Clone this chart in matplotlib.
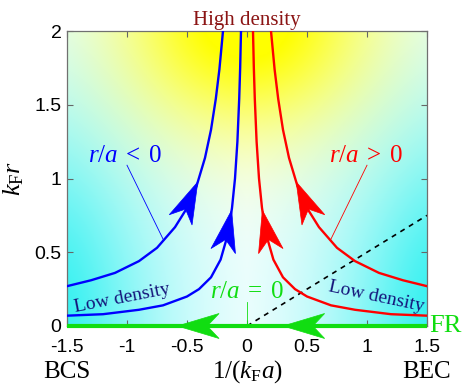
import numpy as np
import matplotlib
matplotlib.use("Agg")
import matplotlib.pyplot as plt
from matplotlib.patches import Polygon
from matplotlib.transforms import Affine2D, ScaledTranslation

plt.rcParams['axes.unicode_minus'] = False
plt.rcParams['mathtext.fontset'] = 'custom'
plt.rcParams['mathtext.rm'] = 'Liberation Serif'
plt.rcParams['mathtext.it'] = 'Liberation Serif:italic'

# axis ticks
x_ticks = [-1.5, -1, -0.5, 0, 0.5, 1, 1.5]
y_ticks = [0, 0.5, 1, 1.5, 2]

# flow lines (blue: r/a < 0, red: r/a > 0)
blue_outer_x = [-1.5, -1.3, -1.1, -0.9, -0.75, -0.6, -0.5, -0.42, -0.35, -0.3, -0.26, -0.23, -0.2]
blue_outer_y = [0.27, 0.31, 0.36, 0.44, 0.53, 0.67, 0.80, 0.95, 1.14, 1.33, 1.54, 1.74, 2.0]
blue_inner_x = [-1.5, -1.2, -0.9, -0.7, -0.5, -0.4, -0.3, -0.22, -0.16, -0.125, -0.1, -0.08, -0.065, -0.057, -0.05]
blue_inner_y = [0.07, 0.08, 0.11, 0.14, 0.20, 0.25, 0.33, 0.45, 0.62, 0.80, 1.0, 1.25, 1.54, 1.75, 2.0]
red_outer_x = [1.5, 1.3, 1.1, 0.9, 0.75, 0.6, 0.5, 0.42, 0.35, 0.3, 0.26, 0.23, 0.2]
red_outer_y = [0.27, 0.31, 0.36, 0.44, 0.53, 0.67, 0.80, 0.95, 1.14, 1.33, 1.54, 1.74, 2.0]
red_inner_x = [1.5, 1.2, 0.9, 0.7, 0.5, 0.4, 0.3, 0.22, 0.16, 0.125, 0.1, 0.08, 0.065, 0.057, 0.05]
red_inner_y = [0.07, 0.08, 0.11, 0.14, 0.20, 0.25, 0.33, 0.45, 0.62, 0.80, 1.0, 1.25, 1.54, 1.75, 2.0]

# arrow heads: x of tip and of back end along each curve
arrow_tip_x = [-0.41, -0.128, 0.128, 0.41]
arrow_back_x = [-0.53, -0.195, 0.195, 0.53]

# fixed point line r/a = 0 and its arrows
fr_x = [-1.5, 1.5]
fr_y = [0, 0]
fr_arrow_tip_x = [-0.58, 0.30]
fr_arrow_back_x = [-0.25, 0.63]

# dashed line
dash_x = [0, 1.5]
dash_y = [0, 0.75]

blue = '#0000ff'
red = '#ff0000'
green = '#11dd11'
navy = '#14147a'

fig = plt.figure(figsize=(4.71, 3.9), dpi=100)
ax = fig.add_axes([67/471, 1-326/390, 360/471, 295/390])
ax.set_xlim(-1.5, 1.5)
ax.set_ylim(0, 2)

# background: cyan towards the low density corners, yellow at high density top
gx, gy = np.meshgrid(np.linspace(-1.5, 1.5, 300), np.linspace(0, 2, 200))
sl = np.exp(-((gx + 1.5) / 0.85) ** 1.4 - (gy / 1.46) ** 2)
sr = np.exp(-((1.5 - gx) / 0.85) ** 1.4 - (gy / 1.46) ** 2)
t = np.clip(1.15 * np.exp(-(gx / 1.0) ** 2 - ((gy - 2.1) / 0.75) ** 2), 0, 1)
s = 0.77 * np.maximum(sl, sr) * (1 - t)
img = np.dstack([1 - s, 1 - 0.07 * s, 1 - t - 0.07 * s])
img = np.clip(img, 0, 1)
ax.imshow(img, extent=[-1.5, 1.5, 0, 2], origin='lower', aspect='auto',
          interpolation='bilinear', zorder=0)

lw = 1.7
ax.plot(blue_outer_x, blue_outer_y, color=blue, lw=lw, zorder=3)
ax.plot(blue_inner_x, blue_inner_y, color=blue, lw=lw, zorder=3)
ax.plot(red_outer_x, red_outer_y, color=red, lw=lw, zorder=3)
ax.plot(red_inner_x, red_inner_y, color=red, lw=lw, zorder=3)
ax.plot(dash_x, dash_y, color='black', lw=1.2, ls=(0, (3, 3)), zorder=2)
ax.plot(fr_x, fr_y, color=green, lw=3, zorder=4, clip_on=False,
        solid_capstyle='butt')


def head(x0, y0, x1, y1, color):
    # notched arrow head, tip at (x0, y0), pointing away from (x1, y1)
    p0 = ax.transData.transform((x0, y0))
    p1 = ax.transData.transform((x1, y1))
    ang = np.arctan2(p0[1] - p1[1], p0[0] - p1[0])
    L, W, N = 30, 9, 21.5
    verts = np.array([[0, 0], [-L, W], [-N, 0], [-L, -W]])
    tr = (Affine2D().rotate(ang).scale(1 / 72) + fig.dpi_scale_trans
          + ScaledTranslation(x0, y0, ax.transData))
    ax.add_patch(Polygon(verts, closed=True, facecolor=color, edgecolor=color,
                         lw=0.5, transform=tr, zorder=5, clip_on=False))


curves = [(blue_outer_x, blue_outer_y, blue), (blue_inner_x, blue_inner_y, blue),
          (red_inner_x, red_inner_y, red), (red_outer_x, red_outer_y, red)]
for (cx, cy, col), tx, bx in zip(curves, arrow_tip_x, arrow_back_x):
    order = np.argsort(cx)
    xs = np.array(cx)[order]
    ys = np.array(cy)[order]
    head(tx, np.interp(tx, xs, ys), bx, np.interp(bx, xs, ys), col)

for tx, bx in zip(fr_arrow_tip_x, fr_arrow_back_x):
    head(tx, 0, bx, 0, green)

# labels
ax.text(-1.02, 1.16, r'$r/a\;<\;0$', color=blue, fontsize=18, ha='center', va='center')
ax.text(0.99, 1.16, r'$r/a\;>\;0$', color=red, fontsize=18, ha='center', va='center')
ax.text(0.0, 0.235, r'$r/a\;=\;0$', color=green, fontsize=18, ha='center', va='center')
ax.plot([-1.0, -0.694], [1.09, 0.58], color=blue, lw=0.6, zorder=2)
ax.plot([1.0, 0.694], [1.09, 0.58], color=red, lw=0.6, zorder=2)
ax.plot([0.0, 0.0], [0.16, 0.0], color=green, lw=0.6, zorder=2)
ax.text(-1.04, 0.19, 'Low density', family='Liberation Serif', color=navy,
        fontsize=14, rotation=11, ha='center', va='center')
ax.text(1.075, 0.20, 'Low density', family='Liberation Serif', color=navy,
        fontsize=14, rotation=-12, ha='center', va='center')
ax.text(0.0, 1.02, 'High density', family='Liberation Serif', color='#8b1414',
        fontsize=15, ha='center', va='baseline', transform=ax.get_xaxis_transform())
ax.text(1.515, 0.0, 'FR', family='Liberation Serif', color=green, fontsize=19,
        ha='left', va='center')

ax.text(-1.5, -0.175, 'BCS', family='Liberation Serif', fontsize=18,
        ha='center', va='baseline', transform=ax.get_xaxis_transform())
ax.text(1.5, -0.175, 'BEC', family='Liberation Serif', fontsize=18,
        ha='center', va='baseline', transform=ax.get_xaxis_transform())
ax.text(0.0, -0.175, r'$1/(k_{\rm F}a)$', fontsize=18,
        ha='center', va='baseline', transform=ax.get_xaxis_transform())
ax.set_ylabel(r'$k_{\rm F}r$', fontsize=19, labelpad=6)

ax.set_xticks(x_ticks)
ax.set_xticklabels(['-1.5', '-1', '-0.5', '0', '0.5', '1', '1.5'])
ax.set_yticks(y_ticks)
ax.set_yticklabels(['0', '0.5', '1', '1.5', '2'])
ax.tick_params(direction='in', length=4.5, width=0.8, color='#666666',
               top=True, right=True, labelsize=14)
ax.tick_params(axis='x', pad=9)
ax.tick_params(axis='y', pad=4)
for lab in ax.get_xticklabels() + ax.get_yticklabels():
    lab.set_family('Liberation Sans')
for sp in ax.spines.values():
    sp.set_color('#707070')
    sp.set_linewidth(0.9)

fig.savefig('out.png', dpi=100)
